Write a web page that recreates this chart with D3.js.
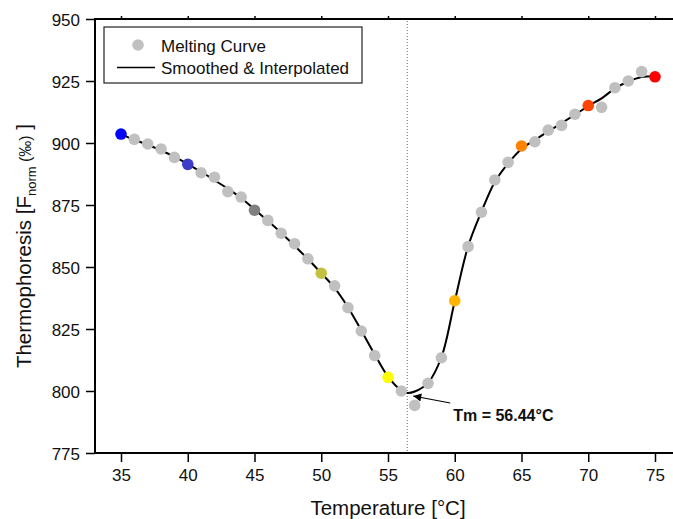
<!DOCTYPE html>
<html>
<head>
<meta charset="utf-8">
<script src="https://cdn.jsdelivr.net/npm/d3@7"></script>
<style>
  body { margin: 0; background: #fff; }
  svg { display: block; font-family: Arial, "Liberation Sans", sans-serif; }
</style>
</head>
<body>
<svg id="chart" width="673" height="519"></svg>
<script>
"use strict";

// melting curve, one reading per degree
var meltT = [35, 36, 37, 38, 39, 40, 41, 42, 43, 44, 45, 46, 47, 48, 49, 50, 51, 52, 53, 54, 55,
             56, 57, 58, 59, 60, 61, 62, 63, 64, 65, 66, 67, 68, 69, 70, 71, 72, 73, 74, 75];
var meltF = [903.6, 901.5, 899.6, 897.6, 894.2, 891.4, 888.0, 886.2, 880.4, 878.2, 872.9,
             868.8, 863.6, 859.4, 853.3, 847.5, 842.4, 833.6, 824.2, 814.3, 805.5,
             800.0, 794.2, 803.1, 813.4, 836.4, 858.2, 872.1, 885.1, 892.2, 898.8,
             900.5, 905.2, 907.1, 911.6, 915.1, 914.4, 922.3, 925.0, 928.8, 926.7];

// highlighted readings every 5 degrees
var markT = [35, 40, 45, 50, 55, 60, 65, 70, 75];
var markColor = ["#0000ff", "#3c3cc8", "#808080", "#c4c040", "#ffff00",
                 "#ffb400", "#ff8400", "#ff4400", "#ff0000"];

// smoothed & interpolated curve
var smoothT = [35, 36, 37, 38, 39, 40, 41, 42, 43, 44, 45, 46, 47, 48, 49, 50, 51, 52, 53, 54, 55,
               56, 56.44, 57, 58, 59, 60, 61, 62, 63, 64, 65, 66, 67, 68, 69, 70, 71, 72, 73, 74, 75];
var smoothF = [903.6, 901.3, 899.3, 897.0, 894.5, 891.5, 888.4, 885.0, 881.6, 877.8, 873.2,
               868.6, 863.7, 858.6, 853.2, 847.5, 841.6, 833.8, 824.4, 814.8, 805.8,
               800.2, 799.2, 799.8, 803.3, 813.6, 836.2, 858.3, 872.3, 884.3, 891.8, 897.6,
               901.2, 904.7, 908.0, 911.4, 914.9, 918.0, 922.0, 924.8, 926.6, 926.9];

var tm = 56.44;
var xTicks = [35, 40, 45, 50, 55, 60, 65, 70, 75];
var yTicks = [775, 800, 825, 850, 875, 900, 925, 950];

(function() {
    var svg = d3.select("#chart");

    var x = d3.scaleLinear().domain([33, 77]).range([94.3, 681.7]);
    var y = d3.scaleLinear().domain([775, 950]).range([453, 19]);

    var plotLeft = 95, plotRight = 673, plotTop = y(950), plotBottom = y(775);

    // axes
    var leftAx = svg.append("g").attr("transform", "translate(" + plotLeft + ",0)")
        .call(d3.axisLeft(y).tickValues(yTicks).tickSize(9).tickPadding(6).tickSizeOuter(0));
    var bottomAx = svg.append("g").attr("transform", "translate(0," + plotBottom + ")")
        .call(d3.axisBottom(x).tickValues(xTicks).tickSize(9).tickPadding(7).tickSizeOuter(0));
    var topAx = svg.append("g").attr("transform", "translate(0," + plotTop + ")")
        .call(d3.axisTop(x).tickValues(xTicks).tickSize(3).tickFormat("").tickSizeOuter(0));

    [leftAx, bottomAx, topAx].forEach(function(g) {
        g.select(".domain").remove();
        g.selectAll(".tick line").attr("stroke", "#000").attr("stroke-width", 1.5);
        g.selectAll(".tick text").attr("fill", "#111").style("font-size", "17px")
            .style("font-family", "Arial, 'Liberation Sans', sans-serif");
    });
    leftAx.selectAll(".tick text").attr("dy", "0.36em");

    svg.append("line").attr("x1", plotLeft).attr("x2", plotLeft).attr("y1", plotTop - 1).attr("y2", plotBottom + 1)
        .attr("stroke", "#000").attr("stroke-width", 2);
    svg.append("line").attr("x1", plotLeft).attr("x2", plotRight).attr("y1", plotBottom).attr("y2", plotBottom)
        .attr("stroke", "#000").attr("stroke-width", 2);
    svg.append("line").attr("x1", plotLeft).attr("x2", plotRight).attr("y1", plotTop).attr("y2", plotTop)
        .attr("stroke", "#000").attr("stroke-width", 2);

    // Tm marker
    svg.append("line")
        .attr("x1", x(tm)).attr("x2", x(tm)).attr("y1", plotTop + 2).attr("y2", plotBottom - 1)
        .attr("stroke", "#666").attr("stroke-width", 1).attr("stroke-dasharray", "1,2");

    // smoothed line
    var line = d3.line()
        .x(function(d) { return x(d[0]); })
        .y(function(d) { return y(d[1]); })
        .curve(d3.curveCatmullRom.alpha(0.5));
    svg.append("path")
        .datum(d3.zip(smoothT, smoothF))
        .attr("d", line)
        .attr("fill", "none").attr("stroke", "#000").attr("stroke-width", 2);

    // melting points
    svg.append("g").selectAll("circle")
        .data(d3.zip(meltT, meltF))
        .join("circle")
        .attr("cx", function(d) { return x(d[0]); })
        .attr("cy", function(d) { return y(d[1]); })
        .attr("r", 5.8)
        .attr("fill", function(d) {
            var i = markT.indexOf(d[0]);
            return i < 0 ? "#c0c0c0" : markColor[i];
        });

    // Tm annotation
    svg.append("defs").append("marker")
        .attr("id", "arrow").attr("viewBox", "0 0 10 10").attr("refX", 10).attr("refY", 5)
        .attr("markerWidth", 11).attr("markerHeight", 8).attr("markerUnits", "userSpaceOnUse")
        .attr("orient", "auto")
        .append("path").attr("d", "M0,0L10,5L0,10Z").attr("fill", "#000");
    var minY = y(799.2);
    svg.append("line")
        .attr("x1", x(tm) + 43).attr("y1", minY + 10)
        .attr("x2", x(tm) + 6).attr("y2", minY + 3)
        .attr("stroke", "#000").attr("stroke-width", 1.2)
        .attr("marker-end", "url(#arrow)");
    svg.append("text")
        .attr("x", x(tm) + 46).attr("y", minY + 28)
        .style("font-size", "16px").style("font-weight", "bold").attr("fill", "#111")
        .text("Tm = " + tm.toFixed(2) + "°C");

    // legend
    var lg = svg.append("g").attr("transform", "translate(104,27)");
    lg.append("rect").attr("width", 258).attr("height", 56)
        .attr("fill", "#fff").attr("stroke", "#222").attr("stroke-width", 1.2);
    lg.append("circle").attr("cx", 34).attr("cy", 18).attr("r", 5.8).attr("fill", "#c0c0c0");
    lg.append("text").attr("x", 57).attr("y", 24.5).style("font-size", "17px").attr("fill", "#111")
        .text("Melting Curve");
    lg.append("line").attr("x1", 13).attr("x2", 51).attr("y1", 40.5).attr("y2", 40.5)
        .attr("stroke", "#000").attr("stroke-width", 1.5);
    lg.append("text").attr("x", 57).attr("y", 46.5).style("font-size", "17px").attr("fill", "#111")
        .text("Smoothed & Interpolated");

    // axis titles
    svg.append("text")
        .attr("x", 388).attr("y", 515)
        .attr("text-anchor", "middle").style("font-size", "20.5px").attr("fill", "#111")
        .text("Temperature [°C]");

    var yt = svg.append("text")
        .attr("transform", "translate(31,246) rotate(-90)")
        .attr("text-anchor", "middle").style("font-size", "20.5px").attr("fill", "#111");
    yt.append("tspan").text("Thermophoresis [F");
    yt.append("tspan").attr("dy", 5).style("font-size", "13px").text("norm");
    yt.append("tspan").attr("dy", -5).style("font-size", "16px").text(" (‰)");
    yt.append("tspan").text(" ]");
})();
</script>
</body>
</html>
